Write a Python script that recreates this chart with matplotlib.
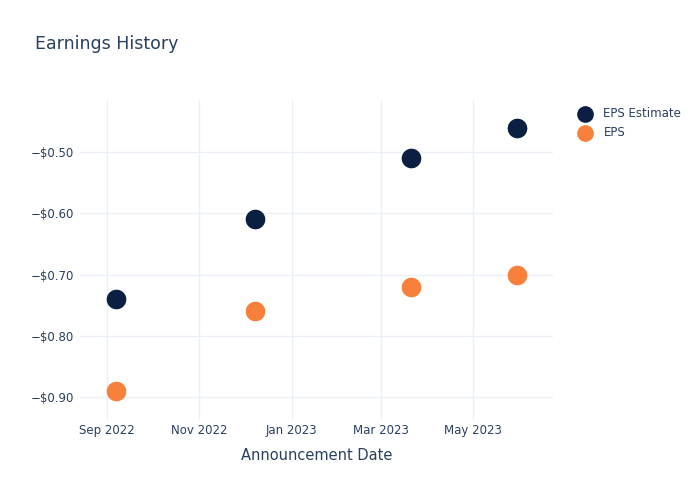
import matplotlib
matplotlib.use("Agg")
import matplotlib.pyplot as plt
import matplotlib.dates as mdates
from matplotlib.ticker import FuncFormatter, FixedLocator
import datetime as dt

dates = ["2022-09-07", "2022-12-08", "2023-03-21", "2023-05-30"]
eps_estimate = [-0.74, -0.61, -0.51, -0.46]
eps_actual = [-0.89, -0.76, -0.72, -0.70]
x_ticks = ["2022-09-01", "2022-11-01", "2023-01-01", "2023-03-01", "2023-05-01"]
x_tick_labels = ["Sep 2022", "Nov 2022", "Jan 2023", "Mar 2023", "May 2023"]
y_ticks = [-0.9, -0.8, -0.7, -0.6, -0.5]

text_color = "#2a3f5f"
grid_color = "#ebf0f8"
navy = "#0b1f42"
orange = "#f7803a"

plt.rcParams['font.family'] = ['DejaVu Sans']

to_d = lambda s: dt.datetime.strptime(s, "%Y-%m-%d")
xd = [to_d(s) for s in dates]

fig = plt.figure(figsize=(7, 5), dpi=100)
ax = fig.add_axes([80/700, 80/500, 473/700, 320/500])

ax.scatter(xd, eps_estimate, s=200, color=navy, label="EPS Estimate", zorder=3, linewidths=0)
ax.scatter(xd, eps_actual, s=200, color=orange, label="EPS", zorder=3, linewidths=0)

ax.set_xlim(to_d("2022-08-14"), to_d("2023-06-23"))
ax.set_ylim(-0.9376, -0.415)

ax.xaxis.set_major_locator(FixedLocator([mdates.date2num(to_d(s)) for s in x_ticks]))
ax.set_xticklabels(x_tick_labels)
ax.set_yticks(y_ticks)
ax.yaxis.set_major_formatter(FuncFormatter(lambda v, p: "\u2212$%.2f" % abs(v)))

for sp in ax.spines.values():
    sp.set_visible(False)
ax.grid(True, color=grid_color, linewidth=1)
ax.set_axisbelow(True)
ax.tick_params(axis='both', length=0, labelsize=8.5, colors=text_color)
ax.tick_params(axis='x', pad=3)
ax.tick_params(axis='y', pad=4)

ax.set_xlabel("Announcement Date", fontsize=10.5, color=text_color, labelpad=8)
fig.text(35/700, 1 - 44/500, "Earnings History", fontsize=12.5, color=text_color, va='center', ha='left')

leg = fig.legend(handles=ax.get_legend_handles_labels()[0], labels=["EPS Estimate", "EPS"],
                 loc='upper left', bbox_to_anchor=(568/700, 1 - 102/500), frameon=False,
                 fontsize=8.5, handletextpad=0.6, labelspacing=0.5, markerscale=0.85,
                 borderaxespad=0)
for t in leg.get_texts():
    t.set_color(text_color)

fig.savefig("out.png", dpi=100)
